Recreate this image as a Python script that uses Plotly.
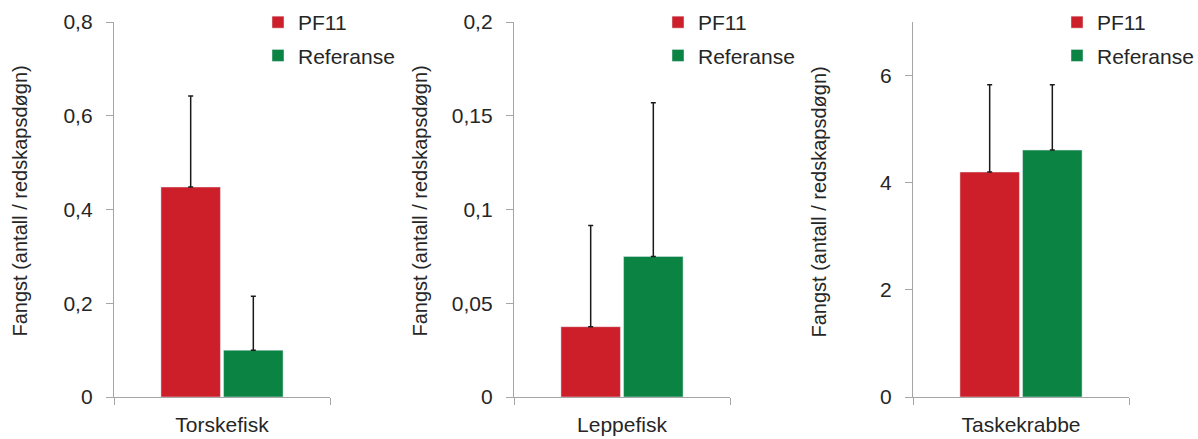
import plotly.graph_objects as go

# Catch per gear-day, PF11 vs reference, one panel per species group
categories = ["Torskefisk", "Leppefisk", "Taskekrabbe"]
pf11 = [0.448, 0.0375, 4.20]
pf11_err = [0.194, 0.054, 1.63]
referanse = [0.100, 0.075, 4.61]
referanse_err = [0.115, 0.082, 1.22]

y_ranges = [[0, 0.8], [0, 0.2], [0, 7]]
y_tickvals = [[0, 0.2, 0.4, 0.6, 0.8], [0, 0.05, 0.1, 0.15, 0.2], [0, 2, 4, 6]]
y_ticktext = [["0", "0,2", "0,4", "0,6", "0,8"],
              ["0", "0,05", "0,1", "0,15", "0,2"],
              ["0", "2", "4", "6"]]

RED = "#cc1f29"
GREEN = "#0b8343"
AXIS = "#a6a6a6"
TEXT = "#262626"
FONT = "Liberation Sans"
W, H = 1198, 439

# pixel layout of the three panels
x_px = [(114, 330), (514, 730), (913, 1129)]
y_dom = [(H - 397) / H, (H - 22) / H]

fig = go.Figure()
for i, cat in enumerate(categories):
    n = "" if i == 0 else str(i + 1)
    common = dict(xaxis=f"x{n}", yaxis=f"y{n}", legend=f"legend{n}")
    fig.add_trace(go.Bar(
        x=[cat], y=[pf11[i]], name="PF11", marker_color=RED,
        legendgroup=f"a{i}", offsetgroup="a",
        error_y=dict(type="data", symmetric=False, array=[pf11_err[i]],
                     arrayminus=[0], color="#1a1a1a", thickness=1.5, width=2.5),
        **common))
    fig.add_trace(go.Bar(
        x=[cat], y=[referanse[i]], name="Referanse", marker_color=GREEN,
        legendgroup=f"b{i}", offsetgroup="b",
        error_y=dict(type="data", symmetric=False, array=[referanse_err[i]],
                     arrayminus=[0], color="#1a1a1a", thickness=1.5, width=2.5),
        **common))

    x0, x1 = x_px[i]
    fig.update_layout(**{
        f"xaxis{n}": dict(
            domain=[x0 / W, x1 / W], anchor=f"y{n}", range=[-0.5, 0.5],
            showline=True, linecolor=AXIS, linewidth=1.3,
            ticks="outside", tickson="boundaries", ticklen=7, tickcolor=AXIS,
            tickwidth=1.3, ticklabelstandoff=9, fixedrange=True,
            tickfont=dict(family=FONT, size=21, color=TEXT)),
        f"yaxis{n}": dict(
            domain=y_dom, anchor=f"x{n}", range=y_ranges[i],
            tickvals=y_tickvals[i], ticktext=y_ticktext[i],
            showline=True, linecolor=AXIS, linewidth=1.3, showgrid=False,
            zeroline=False, ticks="outside", ticklen=7, tickcolor=AXIS,
            tickwidth=1.3, ticklabelstandoff=9,
            tickfont=dict(family=FONT, size=21, color=TEXT)),
        f"legend{n}": dict(
            x=(x1 - 72) / W, y=1 - 2 / H, xanchor="left", yanchor="top",
            bgcolor="rgba(0,0,0,0)", tracegroupgap=3,
            font=dict(family=FONT, size=21, color=TEXT)),
    })
    fig.add_annotation(
        text="Fangst (antall / redskapsdøgn)", textangle=-90,
        xref=f"x{n} domain", yref=f"y{n} domain", x=0, y=0.5,
        xshift=-94, yshift=8, showarrow=False, xanchor="center", yanchor="middle",
        font=dict(family=FONT, size=20, color=TEXT))

fig.update_layout(
    width=W, height=H, barmode="group", bargap=0.42, bargroupgap=0.05,
    margin=dict(l=0, r=0, t=0, b=0, autoexpand=False),
    plot_bgcolor="white", paper_bgcolor="white",
    separators=", ",
)

# drop the browser's default body margin so the figure sits at (0, 0)
fig.write_html("out.html", config={"displayModeBar": False},
               post_script="document.body.style.margin = '0';")
